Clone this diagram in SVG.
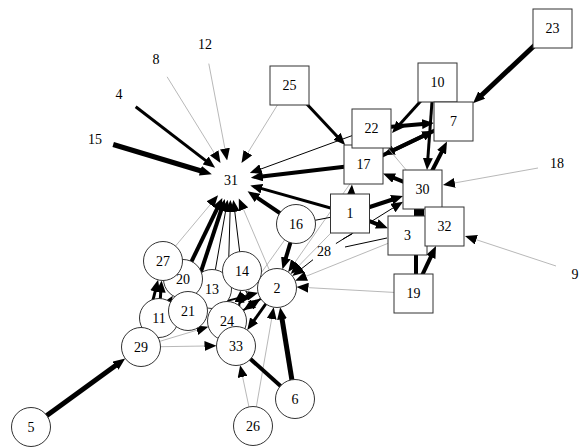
<svg xmlns="http://www.w3.org/2000/svg" width="581" height="447" viewBox="0 0 581 447">
<style>
.k{stroke:#000}
.g{stroke:#a6a6a6;stroke-width:0.8}
.n{fill:#fff;stroke:#333;stroke-width:1}
text{font-family:"Liberation Serif","Times New Roman",serif;font-size:14px;fill:#000;text-anchor:middle;dominant-baseline:central}
.plain{marker-end:none}
</style>
<defs>
<marker id="a" markerUnits="userSpaceOnUse" markerWidth="12" markerHeight="10" viewBox="0 0 12 10" refX="1" refY="5" orient="auto"><path d="M0,0 L12,5 L0,10 z" fill="#000"/></marker>
</defs>
<g id="edges" fill="none" marker-end="url(#a)">
<line class="k" stroke-width="5" x1="113.2" y1="144.5" x2="201.3" y2="171"/>
<line class="k" stroke-width="3" x1="135.7" y1="106.8" x2="206.4" y2="161.1"/>
<line class="g" x1="167.1" y1="76.8" x2="214.7" y2="153.7"/>
<line class="g" x1="208.8" y1="63.6" x2="225.1" y2="149.6"/>
<line class="g" x1="289.5" y1="85.5" x2="247.3" y2="153.6"/>
<line class="k" stroke-width="1" x1="371.5" y1="128.5" x2="260.1" y2="169.3"/>
<line class="k" stroke-width="4" x1="363.5" y1="164.5" x2="261.8" y2="176.4"/>
<line class="k" stroke-width="3" x1="350" y1="213.5" x2="260.9" y2="188.4"/>
<line class="k" stroke-width="4" x1="296" y1="224" x2="256.7" y2="197.4"/>
<line class="g" x1="163" y1="261" x2="211" y2="203.7"/>
<line class="k" stroke-width="4" x1="183" y1="279" x2="217.5" y2="207.9"/>
<line class="k" stroke-width="4" x1="188" y1="311" x2="221.4" y2="209.5"/>
<line class="k" stroke-width="1" x1="212" y1="289" x2="225.7" y2="210.5"/>
<line class="k" stroke-width="1" x1="242" y1="271" x2="234.7" y2="210.8"/>
<line class="g" x1="277" y1="288" x2="243.1" y2="208.5"/>
<line class="k" stroke-width="1" x1="227" y1="321" x2="230.1" y2="211"/>
<line class="k" stroke-width="4" x1="296" y1="224" x2="285.6" y2="258.8"/>
<line class="g" x1="350" y1="213.5" x2="298.4" y2="266.2"/>
<line class="g" x1="363.5" y1="164.5" x2="294.5" y2="263"/>
<line class="g" x1="407.5" y1="235.5" x2="305.3" y2="276.6"/>
<line class="g" x1="413.5" y1="293.5" x2="307.5" y2="287.6"/>
<line class="k" stroke-width="1" x1="313" y1="259.7" x2="301" y2="269.1"/>
<line class="k" stroke-width="5" x1="295" y1="399" x2="281.9" y2="318.2"/>
<line class="g" x1="253" y1="426" x2="271.8" y2="318"/>
<line class="k" stroke-width="2" x1="188" y1="311" x2="247.5" y2="295.6"/>
<line class="k" stroke-width="2" x1="227" y1="321" x2="251.5" y2="304.8"/>
<line class="k" stroke-width="3" x1="277" y1="288" x2="253.6" y2="321.1"/>
<line class="k" stroke-width="2" x1="277" y1="288" x2="252.5" y2="304.2"/>
<line class="g" x1="296" y1="224" x2="244.7" y2="296.1"/>
<line class="k" stroke-width="2" x1="236" y1="346" x2="239.6" y2="301.4"/>
<line class="g" x1="253" y1="426" x2="242.4" y2="375.9"/>
<line class="k plain" stroke-width="4" x1="236" y1="346" x2="295" y2="399"/>
<line class="g" x1="141" y1="347" x2="205.5" y2="346"/>
<line class="g" x1="141" y1="347" x2="197.8" y2="329.9"/>
<line class="k" stroke-width="5" x1="31" y1="427" x2="116.3" y2="365"/>
<line class="k" stroke-width="3" x1="159" y1="318" x2="160.8" y2="291.5"/>
<line class="k" stroke-width="3" x1="141" y1="347" x2="155.4" y2="290.5"/>
<line class="k" stroke-width="2" x1="141" y1="347" x2="167" y2="305"/>
<line class="k" stroke-width="5" x1="552.5" y1="28.5" x2="481" y2="95.7"/>
<line class="k" stroke-width="3" x1="289.5" y1="85.5" x2="337.7" y2="137"/>
<line class="k" stroke-width="3" x1="437.5" y1="82.5" x2="399.4" y2="124.8"/>
<line class="k" stroke-width="4" x1="371.5" y1="128.5" x2="423" y2="124"/>
<line class="k" stroke-width="4" x1="363.5" y1="164.5" x2="424.1" y2="135.5"/>
<line class="k" stroke-width="4" x1="453.5" y1="121.5" x2="392.9" y2="150.5"/>
<line class="k" stroke-width="3" x1="432.5" y1="95" x2="427.8" y2="159"/>
<line class="k" stroke-width="4" x1="422.5" y1="189.5" x2="442" y2="151.3"/>
<line class="g" x1="538" y1="168" x2="453.8" y2="183.1"/>
<line class="g plain" x1="371.5" y1="128.5" x2="422.5" y2="189.5"/>
<line class="k" stroke-width="4" x1="422.5" y1="189.5" x2="393.2" y2="177.7"/>
<line class="k" stroke-width="4" x1="350" y1="213.5" x2="392.6" y2="199.5"/>
<line class="k" stroke-width="1" x1="335.9" y1="243.6" x2="393.7" y2="207.5"/>
<line class="k" stroke-width="4" x1="350" y1="213.5" x2="377.7" y2="224.3"/>
<line class="k" stroke-width="3" x1="350" y1="213.5" x2="351.2" y2="195.5"/>
<line class="k plain" stroke-width="4" x1="416" y1="285" x2="416" y2="245"/>
<line class="k" stroke-width="4" x1="413.5" y1="293.5" x2="431.3" y2="255.9"/>
<line class="g" x1="556" y1="266" x2="475.4" y2="239.4"/>
<line class="k plain" stroke-width="10" x1="419" y1="225" x2="419" y2="200"/>
<line class="k plain" stroke-width="1" x1="350" y1="213.5" x2="296" y2="224"/>
<line class="k plain" stroke-width="1" x1="352" y1="234" x2="343" y2="239"/>
<line class="k plain" stroke-width="1" x1="387" y1="238" x2="345" y2="247"/>
</g>
<g id="n10"><rect class="n" x="418" y="63" width="39" height="39"/><text x="437.5" y="82.5">10</text></g>
<g id="n7"><rect class="n" x="434" y="102" width="39" height="39"/><text x="453.5" y="121.5">7</text></g>
<g id="n17"><rect class="n" x="344" y="145" width="39" height="39"/><text x="363.5" y="164.5">17</text></g>
<g id="n22"><rect class="n" x="352" y="109" width="39" height="39"/><text x="371.5" y="128.5">22</text></g>
<g id="n30"><rect class="n" x="403" y="170" width="39" height="39"/><text x="422.5" y="189.5">30</text></g>
<g id="n1"><rect class="n" x="330.5" y="194" width="39" height="39"/><text x="350" y="213.5">1</text></g>
<g id="n3"><rect class="n" x="388" y="216" width="39" height="39"/><text x="407.5" y="235.5">3</text></g>
<g id="n32"><rect class="n" x="425" y="207" width="39" height="39"/><text x="444.5" y="226.5">32</text></g>
<g id="n19"><rect class="n" x="394" y="274" width="39" height="39"/><text x="413.5" y="293.5">19</text></g>
<g id="n23"><rect class="n" x="533" y="9" width="39" height="39"/><text x="552.5" y="28.5">23</text></g>
<g id="n25"><rect class="n" x="270" y="66" width="39" height="39"/><text x="289.5" y="85.5">25</text></g>
<g id="n13"><circle class="n" cx="212" cy="289" r="19.5"/><text x="212" y="289">13</text></g>
<g id="n20"><circle class="n" cx="183" cy="279" r="19.5"/><text x="183" y="279">20</text></g>
<g id="n27"><circle class="n" cx="163" cy="261" r="19.5"/><text x="163" y="261">27</text></g>
<g id="n11"><circle class="n" cx="159" cy="318" r="19.5"/><text x="159" y="318">11</text></g>
<g id="n29"><circle class="n" cx="141" cy="347" r="19.5"/><text x="141" y="347">29</text></g>
<g id="n21"><circle class="n" cx="188" cy="311" r="19.5"/><text x="188" y="311">21</text></g>
<g id="n24"><circle class="n" cx="227" cy="321" r="19.5"/><text x="227" y="321">24</text></g>
<g id="n33"><circle class="n" cx="236" cy="346" r="19.5"/><text x="236" y="346">33</text></g>
<g id="n14"><circle class="n" cx="242" cy="271" r="19.5"/><text x="242" y="271">14</text></g>
<g id="n2"><circle class="n" cx="277" cy="288" r="19.5"/><text x="277" y="288">2</text></g>
<g id="n16"><circle class="n" cx="296" cy="224" r="19.5"/><text x="296" y="224">16</text></g>
<g id="n5"><circle class="n" cx="31" cy="427" r="19.5"/><text x="31" y="427">5</text></g>
<g id="n6"><circle class="n" cx="295" cy="399" r="19.5"/><text x="295" y="399">6</text></g>
<g id="n26"><circle class="n" cx="253" cy="426" r="19.5"/><text x="253" y="426">26</text></g>
<g id="n31"><text x="231" y="180">31</text></g>
<g id="n4"><text x="119" y="94">4</text></g>
<g id="n8"><text x="156" y="59">8</text></g>
<g id="n12"><text x="205" y="44">12</text></g>
<g id="n15"><text x="95" y="139">15</text></g>
<g id="n18"><text x="557" y="163">18</text></g>
<g id="n9"><text x="575" y="274">9</text></g>
<g id="n28"><text x="324" y="251">28</text></g>
</svg>
